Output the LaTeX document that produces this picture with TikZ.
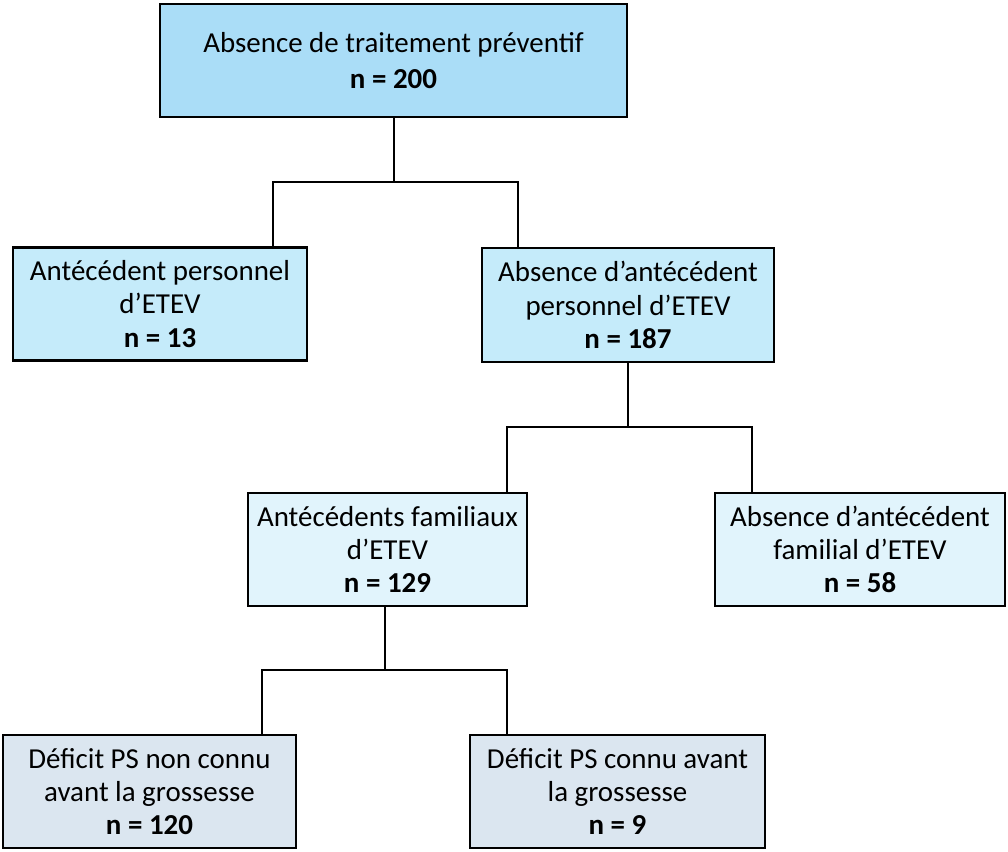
\documentclass[tikz,border=0pt]{standalone}
\usepackage{fontspec}
\setmainfont{Carlito}
\definecolor{cTop}{RGB}{170,221,247}
\definecolor{cLvTwo}{RGB}{197,235,250}
\definecolor{cLvThree}{RGB}{225,244,252}
\definecolor{cLvFour}{RGB}{219,230,240}
\tikzset{
  box/.style={draw=black, line width=1.8pt, align=center, inner sep=0pt,
    font=\fontsize{21.7}{25}\selectfont, text=black, minimum height=84.75pt},
  link/.style={draw=black, line width=1.5pt}
}
\begin{document}
\begin{tikzpicture}[x=0.75pt,y=-0.75pt]
\useasboundingbox (0,0) rectangle (1008,851);
\node[box, fill=cTop, minimum width=350.25pt] (b1) at (393.5,60.5)
  {Absence de traitement préventif\\[2pt]\textbf{n = 200}};
\node[box, fill=cLvTwo, minimum width=220.5pt] (b2) at (160,304)
  {Antécédent personnel\\d’ETEV\\\textbf{n = 13}};
\node[box, fill=cLvTwo, minimum width=219pt, minimum height=85.5pt] (b3) at (628,305)
  {Absence d’antécédent\\personnel d’ETEV\\\textbf{n = 187}};
\node[box, fill=cLvThree, minimum width=209.25pt] (b4) at (387.5,549.5)
  {Antécédents familiaux\\d’ETEV\\\textbf{n = 129}};
\node[box, fill=cLvThree, minimum width=217.5pt] (b5) at (860,549.5)
  {Absence d’antécédent\\familial d’ETEV\\\textbf{n = 58}};
\node[box, fill=cLvFour, minimum width=219.75pt] (b6) at (149.5,791.5)
  {Déficit PS non connu\\avant la grossesse\\\textbf{n = 120}};
\node[box, fill=cLvFour, minimum width=221.25pt] (b7) at (617.5,791.5)
  {Déficit PS connu avant\\la grossesse\\\textbf{n = 9}};
% junctions
\coordinate (j1) at (394,182);
\coordinate (j1l) at (273,182);
\coordinate (j1r) at (518,182);
\coordinate (j2) at (628,427);
\coordinate (j2l) at (507,427);
\coordinate (j2r) at (752,427);
\coordinate (j3) at (385,670);
\coordinate (j3l) at (262,670);
\coordinate (j3r) at (507,670);
\draw[link] (b1.south -| j1) -- (j1);
\draw[link] (b2.north -| j1l) -- (j1l) -- (j1r) -- (b3.north -| j1r);
\draw[link] (b3.south -| j2) -- (j2);
\draw[link] (b4.north -| j2l) -- (j2l) -- (j2r) -- (b5.north -| j2r);
\draw[link] (b4.south -| j3) -- (j3);
\draw[link] (b6.north -| j3l) -- (j3l) -- (j3r) -- (b7.north -| j3r);
\end{tikzpicture}
\end{document}
